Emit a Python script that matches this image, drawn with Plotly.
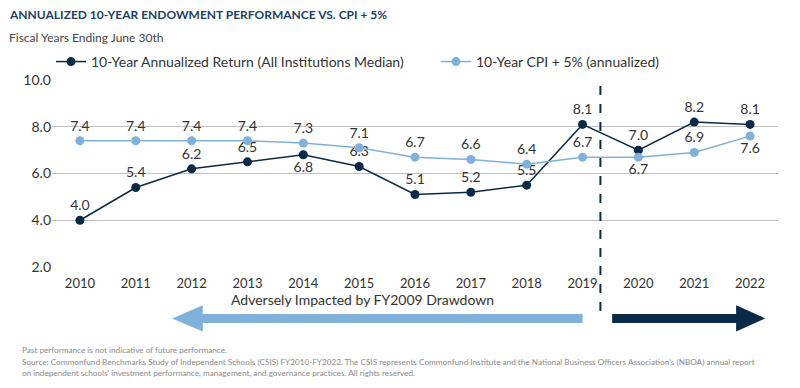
import plotly.graph_objects as go

years = [2010, 2011, 2012, 2013, 2014, 2015, 2016, 2017, 2018, 2019, 2020, 2021, 2022]
returns = [4.0, 5.4, 6.2, 6.5, 6.8, 6.3, 5.1, 5.2, 5.5, 8.1, 7.0, 8.2, 8.1]
cpi_plus5 = [7.4, 7.4, 7.4, 7.4, 7.3, 7.1, 6.7, 6.6, 6.4, 6.7, 6.7, 6.9, 7.6]
ret_pos = ["top center"] * 4 + ["bottom center"] + ["top center"] * 8
cpi_pos = ["top center"] * 10 + ["bottom center", "top center", "bottom center"]

series_names = ["10-Year Annualized Return (All Institutions Median)", "10-Year CPI + 5% (annualized)"]

DARK = "#0b2a47"
LIGHT = "#7fb1da"
TXT = "#333333"
FONT = "Lato"

W, H = 800, 388
OFF = 8  # page body margin
PL, PT, PB, PR = 52, 80, 266.7, 778  # plot area in page pixels
pw, ph = PR - PL, PB - PT
L, T = PL - OFF, PT - OFF
R, B = W - L - pw, H - T - ph


def px(x):
    return (x - PL) / pw


def py(y):
    return (PB - y) / ph


fig = go.Figure()
fig.add_trace(go.Scatter(
    x=years, y=returns, mode="lines+markers+text", name=series_names[0], legend="legend", showlegend=True,
    line=dict(color=DARK, width=1.5), marker=dict(color=DARK, size=9),
    text=[f"{v:.1f}" for v in returns], textposition=ret_pos,
    textfont=dict(family=FONT, size=14, color=TXT), cliponaxis=False))
fig.add_trace(go.Scatter(
    x=years, y=cpi_plus5, mode="lines+markers+text", name=series_names[1], legend="legend2", showlegend=True,
    line=dict(color=LIGHT, width=1.5), marker=dict(color=LIGHT, size=9),
    text=[f"{v:.1f}" for v in cpi_plus5], textposition=cpi_pos,
    textfont=dict(family=FONT, size=14, color=TXT), cliponaxis=False))

shapes = []
# dashed divider
shapes.append(dict(type="line", xref="x", yref="paper", x0=2019.32, x1=2019.32,
                   y0=py(86), y1=py(311), line=dict(color=DARK, width=2, dash="dash")))
# light arrow (left pointing)
yc, sh, hh = py(318), 4.5 / ph, 13 / ph
shapes.append(dict(type="path", xref="x", yref="paper", fillcolor=LIGHT, line=dict(width=0),
                   path=(f"M 2011.65,{yc} L 2012.2,{yc + hh} L 2012.2,{yc + sh} L 2019.0,{yc + sh} "
                         f"L 2019.0,{yc - sh} L 2012.2,{yc - sh} L 2012.2,{yc - hh} Z")))
# dark arrow (right pointing)
shapes.append(dict(type="path", xref="x", yref="paper", fillcolor=DARK, line=dict(width=0),
                   path=(f"M 2022.27,{yc} L 2021.75,{yc + hh} L 2021.75,{yc + sh} L 2019.53,{yc + sh} "
                         f"L 2019.53,{yc - sh} L 2021.75,{yc - sh} L 2021.75,{yc - hh} Z")))

annotations = [
    dict(text="ANNUALIZED 10-YEAR ENDOWMENT PERFORMANCE VS. CPI + 5%", xref="paper", yref="paper",
         x=px(7), y=py(15), xanchor="left", yanchor="middle", showarrow=False,
         font=dict(family=FONT, size=12, color="#1d3f63", weight="bold")),
    dict(text="Fiscal Years Ending June 30th", xref="paper", yref="paper",
         x=px(7), y=py(38), xanchor="left", yanchor="middle", showarrow=False,
         font=dict(family=FONT, size=12, color="#444444")),
    dict(text="Adversely Impacted by FY2009 Drawdown", xref="paper", yref="paper",
         x=px(362), y=py(299), xanchor="center", yanchor="middle", showarrow=False,
         font=dict(family=FONT, size=14, color=TXT)),
    dict(text="Past performance is not indicative of future performance.", xref="paper", yref="paper",
         x=px(20), y=py(350), xanchor="left", yanchor="middle", showarrow=False,
         font=dict(family=FONT, size=8.2, color="#8a8a8a")),
    dict(text="Source: Commonfund Benchmarks Study of Independent Schools (CSIS) FY2010-FY2022. The CSIS represents "
              "Commonfund Institute and the National Business Officers Association's (NBOA) annual report",
         xref="paper", yref="paper", x=px(20), y=py(361.5), xanchor="left", yanchor="middle", showarrow=False,
         font=dict(family=FONT, size=8.2, color="#8a8a8a")),
    dict(text="on independent schools' investment performance, management, and governance practices. All rights reserved.",
         xref="paper", yref="paper", x=px(20), y=py(373), xanchor="left", yanchor="middle", showarrow=False,
         font=dict(family=FONT, size=8.2, color="#8a8a8a")),
]

leg_common = dict(orientation="h", yanchor="middle", xanchor="left",
                  font=dict(family=FONT, size=14, color=TXT), bgcolor="rgba(0,0,0,0)")

fig.update_layout(
    width=W, height=H, margin=dict(l=L, r=R, t=T, b=B, autoexpand=False),
    paper_bgcolor="white", plot_bgcolor="white", showlegend=True,
    font=dict(family=FONT, color=TXT),
    shapes=shapes, annotations=annotations,
    legend=dict(x=px(51), y=py(62), **leg_common),
    legend2=dict(x=px(436), y=py(62), **leg_common),
    xaxis=dict(range=[2009.5, 2022.5], tickmode="array", tickvals=years, ticktext=[str(y) for y in years],
               showgrid=False, zeroline=False, showline=False, ticks="", ticklabelstandoff=7,
               tickfont=dict(family=FONT, size=13, color=TXT)),
    yaxis=dict(range=[2, 10], dtick=2, tickformat=".1f", showgrid=True, gridcolor="#c0c0c0", gridwidth=1,
               zeroline=False, showline=False, ticks="", tickfont=dict(family=FONT, size=14, color=TXT)),
)

fig.write_html("out.html")
